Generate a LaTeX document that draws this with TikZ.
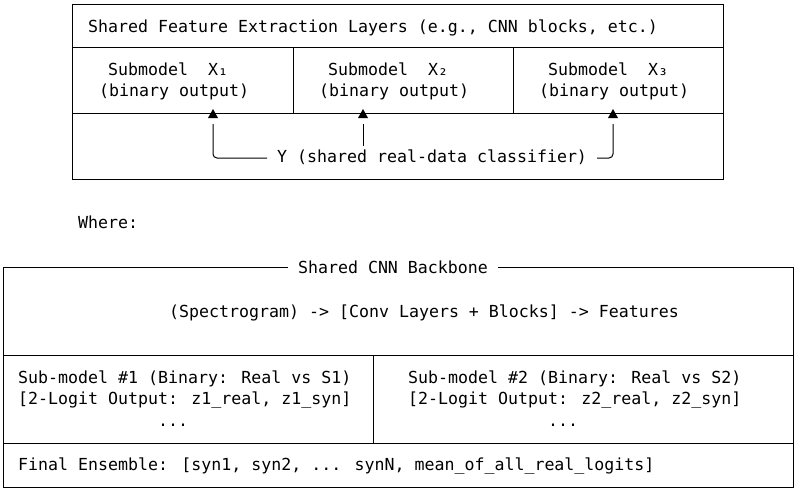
\documentclass[tikz,border=0pt]{standalone}
\usepackage{fontspec}
\setmainfont{DejaVu Sans Mono}
\tikzset{
  frame/.style = {draw=black, line width=1pt},
  txt/.style = {anchor=base west, inner sep=0pt, font=\fontsize{16.6}{20}\selectfont},
  conn/.style = {line width=1pt, rounded corners=4pt},
  tip/.style = {fill=black}
}

\begin{document}
\begin{tikzpicture}[x=1pt, y=-1pt]
  \useasboundingbox (0,0) rectangle (796,490);
  % upper sketch
  \draw[frame] (72,4) rectangle (723,179);
  \draw[frame] (72,47) -- (723,47);
  \draw[frame] (72,113) -- (723,113);
  \draw[frame] (293,47) -- (293,113);
  \draw[frame] (513,47) -- (513,113);
  \node[txt] (shared) at (88,32) {Shared Feature Extraction Layers (e.g., CNN blocks, etc.)};
  \node[txt] (subA) at (108,75.5) {Submodel\ \ X₁};
  \node[txt] (binA) at (99,96.5) {(binary output)};
  \node[txt] (subB) at (328,75.5) {Submodel\ \ X₂};
  \node[txt] (binB) at (319,96.5) {(binary output)};
  \node[txt] (subC) at (548,75.5) {Submodel\ \ X₃};
  \node[txt] (binC) at (539,96.5) {(binary output)};
  \node[txt, text height=12pt, text depth=3pt] (cls) at (277,162.5) {Y (shared real-data classifier)};
  \coordinate (a1) at (213,124);
  \coordinate (a2) at (363,124);
  \coordinate (a3) at (613,124);
  \draw[conn] ([xshift=-10pt]cls.west) -| (a1);
  \draw[conn, shorten >=4pt] (a2) -- (a2 |- cls.north);
  \draw[conn] ([xshift=10pt]cls.east) -| (a3);
  \foreach \p in {a1,a2,a3}
    \fill[tip] ([yshift=15pt]\p) -- ++(-5,9) -- ++(10,0) -- cycle;

  \node[txt] (where) at (78,228) {Where:};

  % lower sketch
  \draw[frame] (3,267.5) rectangle (793,487);
  \draw[frame] (3,355) -- (793,355);
  \draw[frame] (3,443) -- (793,443);
  \draw[frame] (373,355) -- (373,443);
  \node[txt, anchor=base, fill=white, inner xsep=10.5pt, inner ysep=1pt] (backbone) at (393,273) {Shared CNN Backbone};
  \node[txt] (pipe) at (169,317) {(Spectrogram) -> [Conv Layers + Blocks] -> Features};
  \node[txt] (smA) at (18,383.5) {Sub-model \#1 (Binary: Real vs S1)};
  \node[txt] (lgA) at (18,404.5) {[2-Logit Output: z1\_real, z1\_syn]};
  \node[txt] (dotA) at (158,426) {...};
  \node[txt] (smB) at (408,383.5) {Sub-model \#2 (Binary: Real vs S2)};
  \node[txt] (lgB) at (408,404.5) {[2-Logit Output: z2\_real, z2\_syn]};
  \node[txt] (dotB) at (548,426) {...};
  \node[txt] (final) at (18,470) {Final Ensemble: [syn1, syn2, ... synN, mean\_of\_all\_real\_logits]};
\end{tikzpicture}
\end{document}
